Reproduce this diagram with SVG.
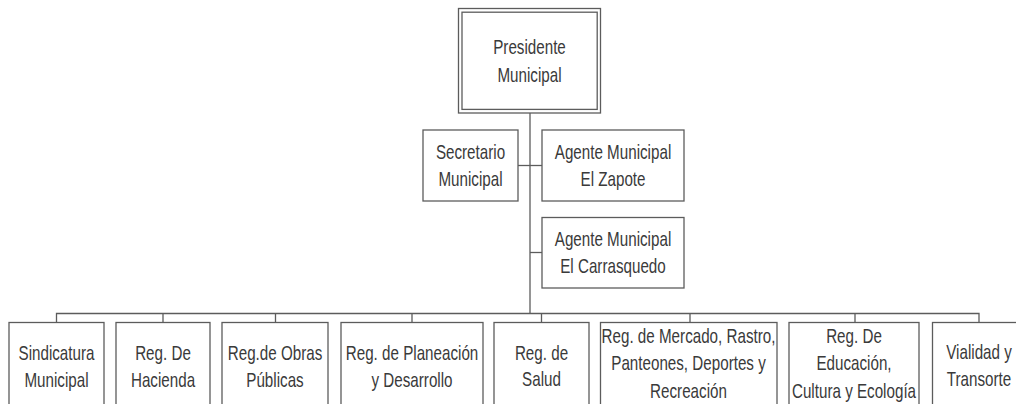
<svg xmlns="http://www.w3.org/2000/svg" width="1016" height="404" viewBox="0 0 1016 404">
<style>
.box{fill:#fff;stroke:#5c5c5c;stroke-width:1.3}
.ln{fill:none;stroke:#5c5c5c;stroke-width:1.3}
.t{font-family:"Liberation Sans",Arial,sans-serif;font-size:20px;fill:#3a3a3a;text-anchor:middle}
</style>
<rect width="1016" height="404" fill="#fff"/>
<g id="connectors">
<path class="ln" d="M530 113V313.5"/>
<path class="ln" d="M518 165.5H542"/>
<path class="ln" d="M530 252.5H542"/>
<path class="ln" d="M56.5 322.5V313.5H979V322.5"/>
<path class="ln" d="M163 313.5V322.5M275.5 313.5V322.5M412 313.5V322.5M541.5 313.5V322.5M690 313.5V322.5M855 313.5V322.5"/>
</g>
<g id="presidente">
<rect class="box" x="458.5" y="8.5" width="142" height="104.5"/>
<rect class="box" x="462" y="12.2" width="135.2" height="97.2"/>
<text class="t" transform="translate(529.5 0) scale(0.76 1)"><tspan x="0" y="54">Presidente</tspan><tspan x="0" y="82">Municipal</tspan></text>
</g>
<g id="secretario">
<rect class="box" x="423" y="130" width="95" height="71"/>
<text class="t" transform="translate(470.5 0) scale(0.76 1)"><tspan x="0" y="159">Secretario</tspan><tspan x="0" y="186">Municipal</tspan></text>
</g>
<g id="agente-zapote">
<rect class="box" x="542" y="130" width="142" height="71"/>
<text class="t" transform="translate(613 0) scale(0.76 1)"><tspan x="0" y="159">Agente Municipal</tspan><tspan x="0" y="186">El Zapote</tspan></text>
</g>
<g id="agente-carrasquedo">
<rect class="box" x="542" y="217.5" width="142" height="70.5"/>
<text class="t" transform="translate(613 0) scale(0.76 1)"><tspan x="0" y="246">Agente Municipal</tspan><tspan x="0" y="273">El Carrasquedo</tspan></text>
</g>
<g id="sindicatura">
<rect class="box" x="9" y="322.5" width="95" height="100"/>
<text class="t" transform="translate(56.5 0) scale(0.76 1)"><tspan x="0" y="360">Sindicatura</tspan><tspan x="0" y="387">Municipal</tspan></text>
</g>
<g id="hacienda">
<rect class="box" x="116" y="322.5" width="94" height="100"/>
<text class="t" transform="translate(163 0) scale(0.76 1)"><tspan x="0" y="360">Reg. De</tspan><tspan x="0" y="387">Hacienda</tspan></text>
</g>
<g id="obras">
<rect class="box" x="222" y="322.5" width="106" height="100"/>
<text class="t" transform="translate(275 0) scale(0.76 1)"><tspan x="0" y="360">Reg.de Obras</tspan><tspan x="0" y="387">Públicas</tspan></text>
</g>
<g id="planeacion">
<rect class="box" x="341" y="322.5" width="142" height="100"/>
<text class="t" transform="translate(412 0) scale(0.76 1)"><tspan x="0" y="360">Reg. de Planeación</tspan><tspan x="0" y="387">y Desarrollo</tspan></text>
</g>
<g id="salud">
<rect class="box" x="494" y="322.5" width="95" height="100"/>
<text class="t" transform="translate(541.5 0) scale(0.76 1)"><tspan x="0" y="360">Reg. de</tspan><tspan x="0" y="386">Salud</tspan></text>
</g>
<g id="mercado">
<rect class="box" x="600.5" y="322.5" width="176.5" height="100"/>
<text class="t" transform="translate(688.5 0) scale(0.76 1)"><tspan x="0" y="343">Reg. de Mercado, Rastro,</tspan><tspan x="0" y="370.5">Panteones, Deportes y</tspan><tspan x="0" y="398">Recreación</tspan></text>
</g>
<g id="educacion">
<rect class="box" x="789" y="322.5" width="130" height="100"/>
<text class="t" transform="translate(854 0) scale(0.76 1)"><tspan x="0" y="343">Reg. De</tspan><tspan x="0" y="370.5">Educación,</tspan><tspan x="0" y="398">Cultura y Ecología</tspan></text>
</g>
<g id="vialidad">
<rect class="box" x="932.5" y="322.5" width="94" height="100"/>
<text class="t" transform="translate(979 0) scale(0.76 1)"><tspan x="0" y="359">Vialidad y</tspan><tspan x="0" y="386">Transorte</tspan></text>
</g>
</svg>
